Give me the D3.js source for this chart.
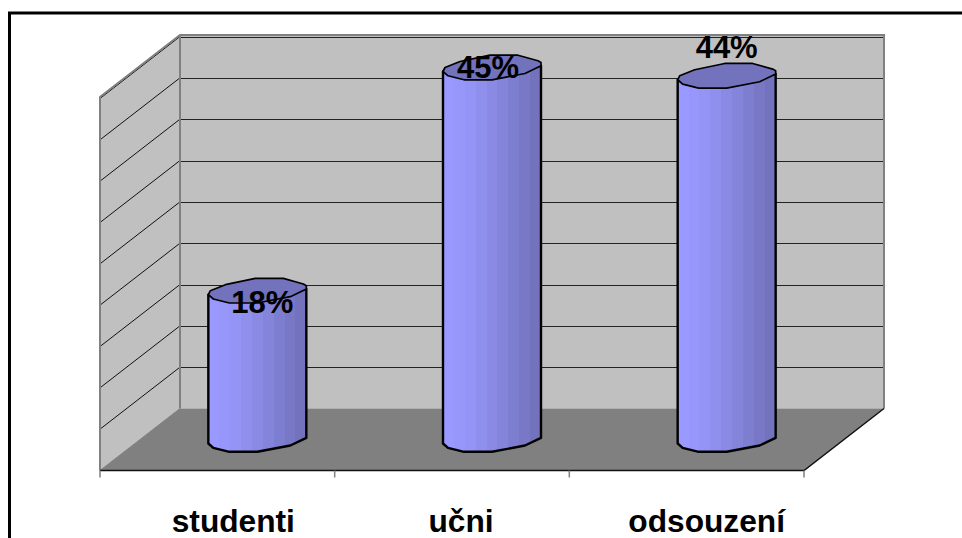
<!DOCTYPE html>
<html><head><meta charset="utf-8">
<script src="https://cdnjs.cloudflare.com/ajax/libs/d3/7.8.5/d3.min.js"></script>
<style>html,body{margin:0;padding:0;background:#fff;overflow:hidden}svg{display:block}text{font-family:"Liberation Sans",Arial,sans-serif;font-weight:bold;fill:#000}</style>
</head><body><svg id="c" width="962" height="538"></svg>
<script>
const categories = ["studenti", "učni", "odsouzení"];
const values = [18, 45, 44];
const valueLabels = ["18%", "45%", "44%"];
const yTicks = [0, 5, 10, 15, 20, 25, 30, 35, 40, 45];

const svg = d3.select("#c");
const front = {x0: 100, x1: 804, y: 470.5};
const depth = {dx: 80, dy: -62};
const y = d3.scaleLinear().domain([0, 45]).range([408.5, 36.5]);
const x = d3.scaleBand().domain(categories).range([front.x0, front.x1]);

// frame
svg.append("polyline").attr("fill", "none").attr("stroke", "#000").attr("stroke-width", 3)
  .attr("points", "9.5,560 9.5,13 964,13");

const wallTop = y(45) - 1.5, back = y(0);
const poly = pts => pts.map(p => p.join(",")).join(" ");
// walls and floor
svg.append("polygon").attr("points", poly([[180,wallTop],[884,wallTop],[884,back],[180,back]])).attr("fill", "#c0c0c0");
svg.append("polygon").attr("points", poly([[100,front.y],[180,back],[180,wallTop],[100,wallTop-depth.dy]])).attr("fill", "#c0c0c0");
svg.append("polygon").attr("points", poly([[100,front.y],[804,front.y],[884,back],[180,back]])).attr("fill", "#808080");

// gridlines
yTicks.slice(1).forEach(t => {
  svg.append("line").attr("x1", 180).attr("x2", 884).attr("y1", Math.round(y(t))+.5).attr("y2", Math.round(y(t))+.5).attr("stroke", "#222").attr("stroke-width", 1);
  svg.append("line").attr("x1", 180).attr("x2", 100).attr("y1", y(t)).attr("y2", y(t)-depth.dy).attr("stroke", "#111").attr("stroke-width", 1);
});
// wall edges
const gray = "#808080";
svg.append("polyline").attr("fill","none").attr("stroke",gray).attr("stroke-width",2)
  .attr("points", poly([[100,front.y],[100,wallTop-depth.dy],[180,wallTop],[884,wallTop],[884,back]]));
svg.append("line").attr("x1",180).attr("x2",180).attr("y1",wallTop).attr("y2",back).attr("stroke",gray).attr("stroke-width",2);
svg.append("line").attr("x1",100).attr("x2",180).attr("y1",front.y).attr("y2",back).attr("stroke",gray).attr("stroke-width",1);
// front edges
svg.append("polyline").attr("fill","none").attr("stroke","#111").attr("stroke-width",1.5)
  .attr("points", poly([[100,front.y],[804,front.y],[884,back]]));
// x ticks
x.domain().concat(["end"]).forEach((c,i) => {
  const px = front.x0 + i * x.step();
  svg.append("line").attr("x1",px).attr("x2",px).attr("y1",front.y).attr("y2",front.y+7).attr("stroke",gray).attr("stroke-width",1.5);
});

// cylinders
const rimTop = [[-49,4],[-47,0],[-32,-6],[-2,-12.3],[26,-12.3],[46,-6.7],[49,-5],[49,-1.7],[33,6],[0,12.3],[-28,12.3],[-44,8.3]];
const rimFront = [[-49,4],[-44,8.3],[-28,12.3],[0,12.3],[33,6],[49,-1.7]];
const defs = svg.append("defs");
const shades = ["#9999ff","#9797fb","#9494f6","#8f8fed","#8a8ae4","#8484da","#7e7ed1","#7878c7","#7272bd"];
const grad = defs.append("linearGradient").attr("id","cyl");
shades.forEach((s,i) => {
  grad.append("stop").attr("offset", i/shades.length).attr("stop-color", s);
  grad.append("stop").attr("offset", (i+1)/shades.length).attr("stop-color", s);
});
const nudge = [[5,22],[-4,10],[0,-18]];
categories.forEach((c,i) => {
  const cx = x(c) + x.bandwidth()/2 + depth.dx/2;
  const by = front.y + depth.dy/2;
  const ty = by - (y(0) - y(values[i]));
  const path = rimFront.map(p => [cx+p[0], by+p[1]]).concat([[cx+49,ty-1.7],[cx-49,ty+4]]);
  svg.append("polygon").attr("points", poly(path)).attr("fill","url(#cyl)").attr("stroke","#000").attr("stroke-width",2.4).attr("stroke-linejoin","round");
  svg.append("polygon").attr("points", poly(rimTop.map(p => [cx+p[0], ty+p[1]]))).attr("fill","#7272bd").attr("stroke","#000").attr("stroke-width",1.7).attr("stroke-linejoin","round");
  svg.append("text").attr("x", cx + nudge[i][0]).attr("y", ty + nudge[i][1]).attr("text-anchor","middle").attr("font-size",31).text(valueLabels[i]);
});

// category labels
const labelShift = [16, 9, 20];
categories.forEach((c,i) => {
  svg.append("text").attr("x", x(c) + x.bandwidth()/2 + labelShift[i]).attr("y", 532).attr("text-anchor","middle").attr("font-size",31.7).text(c);
});
</script></body></html>
